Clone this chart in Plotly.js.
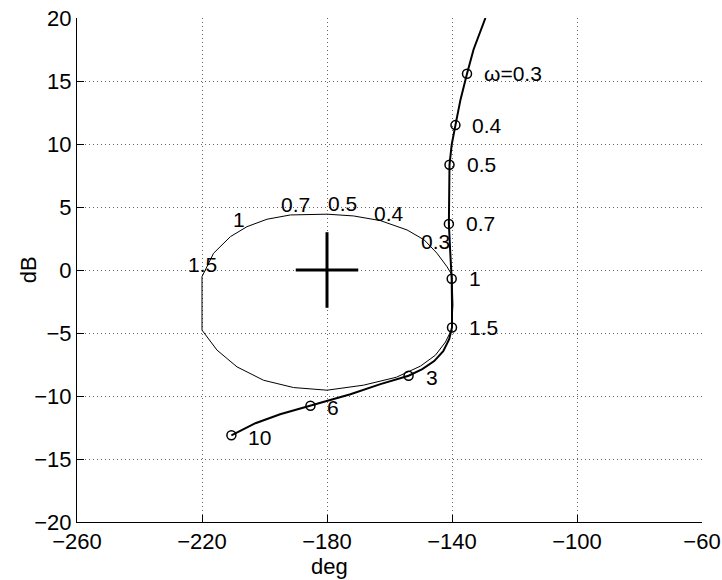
<!DOCTYPE html>
<html>
<head>
<meta charset="utf-8">
<script src="https://cdn.plot.ly/plotly-3.0.1.min.js"></script>
<style>html,body{margin:0;padding:0;background:#fff;}</style>
</head>
<body>
<div id="chart" style="width:722px;height:580px;"></div>
<script>
// Open-loop Nichols curve (phase deg, gain dB)
const loopPhase = [-129.3, -133.1, -135.2, -137.3, -138.9, -140.1, -140.8, -141.0, -141.0, -140.6, -140.1, -140.0, -140.0, -140.9, -142.8, -145.7, -149.5, -153.9, -162.9, -172.5, -185.3, -195.0, -202.9, -210.6];
const loopGain  = [20.0, 17.5, 15.58, 13.5, 11.5, 9.94, 8.35, 5.96, 3.66, 1.59, -0.69, -2.78, -4.56, -5.49, -6.44, -7.23, -7.87, -8.39, -9.06, -9.86, -10.77, -11.45, -12.16, -13.12];

// Marked frequencies on the open-loop curve
const omegaLabels = ["ω=0.3", "0.4", "0.5", "0.7", "1", "1.5", "3", "6", "10"];
const omegaPhase  = [-135.2, -138.9, -140.8, -141.0, -140.1, -140.0, -153.9, -185.3, -210.6];
const omegaGain   = [15.58, 11.5, 8.35, 3.66, -0.69, -4.56, -8.39, -10.77, -13.12];

// Closed contour
const contourPhase = [-140.0, -141.6, -144.8, -148.9, -154.4, -162.9, -171.5, -180.0, -191.7, -199.2, -205.6, -210.9, -216.3, -220.0, -220.0, -215.2, -208.8, -200.3, -190.7, -180.0, -168.3, -157.8, -150.1, -145.3, -142.1, -140.2, -139.7, -140.0];
const contourGain  = [-0.40, 0.26, 1.33, 2.39, 3.18, 3.92, 4.29, 4.43, 4.37, 4.03, 3.44, 2.65, 1.33, -0.53, -4.77, -6.36, -7.69, -8.75, -9.33, -9.54, -9.14, -8.51, -7.63, -6.76, -5.72, -4.77, -2.78, -0.40];

// Contour frequency labels
const contourLabels = ["0.3", "0.4", "0.5", "0.7", "1", "1.5"];
const contourLabelPhase = [-145.3, -160.3, -175.2, -190.1, -208.3, -220.0];
const contourLabelGain  = [2.25, 4.51, 5.30, 5.17, 3.98, 0.40];

// Critical point cross
const critPhase = -180, critGain = 0, crossHalfPhase = 10, crossHalfGain = 3;

const xTicks = [-260, -220, -180, -140, -100, -60];
const yTicks = [-20, -15, -10, -5, 0, 5, 10, 15, 20];
const xTitle = "deg", yTitle = "dB";

const FONT = "Liberation Sans, Arial, Helvetica, sans-serif";
const fmt = v => v < 0 ? "\u2212" + Math.abs(v) : String(v);

const traces = [
  {x: contourPhase, y: contourGain, mode: "lines", line: {color: "#000", width: 1}, hoverinfo: "skip"},
  {x: loopPhase, y: loopGain, mode: "lines", line: {color: "#000", width: 2}, hoverinfo: "skip"},
  {x: omegaPhase, y: omegaGain, mode: "markers",
   marker: {symbol: "circle-open", size: 9, color: "#000", line: {width: 1.5, color: "#000"}}, hoverinfo: "skip"},
  {x: [critPhase - crossHalfPhase, critPhase + crossHalfPhase, null, critPhase, critPhase],
   y: [critGain, critGain, null, critGain - crossHalfGain, critGain + crossHalfGain],
   mode: "lines", line: {color: "#000", width: 3}, hoverinfo: "skip"}
];

const annotations = [];
omegaLabels.forEach((t, i) => {
  annotations.push({x: omegaPhase[i], y: omegaGain[i], text: t, showarrow: false,
    xanchor: "left", yanchor: "middle", xshift: 15, yshift: i >= 6 ? -2 : 0,
    font: {family: FONT, size: 21, color: "#000"}});
});
contourLabels.forEach((t, i) => {
  annotations.push({x: contourLabelPhase[i], y: contourLabelGain[i], text: t, showarrow: false,
    xanchor: "center", yanchor: "middle",
    font: {family: FONT, size: 21, color: "#000"}});
});
annotations.push({xref: "paper", yref: "paper", x: 0.404, y: -0.088, text: xTitle, showarrow: false,
  xanchor: "center", yanchor: "middle", font: {family: FONT, size: 22, color: "#000"}});
annotations.push({xref: "paper", yref: "paper", x: -0.078, y: 0.5, text: yTitle, showarrow: false,
  textangle: -90, xanchor: "center", yanchor: "middle", font: {family: FONT, size: 22, color: "#000"}});

const axisCommon = {
  showgrid: true, gridcolor: "#666", griddash: "1px,3px", gridwidth: 1,
  zeroline: false, showline: true, linecolor: "#000", linewidth: 1,
  ticks: "inside", ticklen: 7, tickcolor: "#000",
  tickfont: {family: FONT, size: 22, color: "#000"}
};

const layout = {
  width: 722, height: 580,
  margin: {l: 77, r: 20, t: 18, b: 58},
  paper_bgcolor: "#fff", plot_bgcolor: "#fff",
  showlegend: false,
  font: {family: FONT, size: 22, color: "#000"},
  xaxis: Object.assign({range: [-260, -60], tickvals: xTicks, ticktext: xTicks.map(fmt), automargin: false}, axisCommon),
  yaxis: Object.assign({range: [-20, 20], tickvals: yTicks, ticktext: yTicks.map(fmt), automargin: false}, axisCommon),
  annotations: annotations
};

Plotly.newPlot("chart", traces, layout, {displayModeBar: false, staticPlot: true});
</script>
</body>
</html>
